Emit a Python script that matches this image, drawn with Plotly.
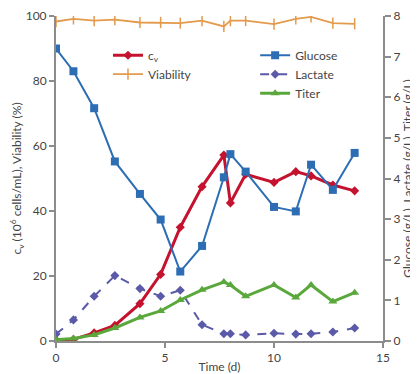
import plotly.graph_objects as go

time_d = [0, 0.8, 1.75, 2.7, 3.85, 4.8, 5.7, 6.7, 7.7, 8.0, 8.7, 10.0, 11.0, 11.7, 12.7, 13.7]
cv = [0.3, 0.5, 2.5, 4.8, 11.5, 20.5, 35.0, 47.5, 57.2, 42.5, 51.3, 48.8, 52.1, 50.8, 48.0, 46.2]
viability = [98.3, 99.1, 98.6, 98.9, 98.0, 98.0, 97.8, 98.6, 96.8, 98.6, 98.6, 97.5, 99.1, 99.7, 97.8, 97.6]
glucose = [7.20, 6.64, 5.73, 4.42, 3.62, 2.99, 1.71, 2.34, 4.03, 4.60, 4.17, 3.30, 3.19, 4.34, 3.72, 4.63]
lactate = [0.17, 0.52, 1.10, 1.61, 1.29, 1.10, 1.25, 0.40, 0.18, 0.18, 0.15, 0.19, 0.17, 0.18, 0.22, 0.32]
titer = [0.03, 0.06, 0.15, 0.32, 0.58, 0.74, 1.01, 1.26, 1.45, 1.38, 1.10, 1.38, 1.07, 1.38, 0.97, 1.19]

RED = "#c4122f"
ORANGE = "#e39a4c"
BLUE = "#2d6db4"
PURPLE = "#5a5aa8"
GREEN = "#5aa83c"
AXIS = "#8c8c8c"
TXT = "#444444"
FONT = "Lato, Noto Sans, sans-serif"

fig = go.Figure()
fig.add_trace(go.Scatter(x=time_d, y=viability, name="Viability", mode="lines+markers",
                         line=dict(color=ORANGE, width=1.8),
                         marker=dict(symbol="line-ns", size=8, line=dict(color=ORANGE, width=1.5)),
                         legend="legend"))
fig.add_trace(go.Scatter(x=time_d, y=cv, name="c<sub>v</sub>", mode="lines+markers",
                         line=dict(color=RED, width=3),
                         marker=dict(symbol="diamond", size=7, color=RED),
                         legend="legend"))
fig.add_trace(go.Scatter(x=time_d, y=glucose, name="Glucose", mode="lines+markers", yaxis="y2",
                         line=dict(color=BLUE, width=2),
                         marker=dict(symbol="square", size=8, color=BLUE),
                         legend="legend2"))
fig.add_trace(go.Scatter(x=time_d, y=lactate, name="Lactate", mode="lines+markers", yaxis="y2",
                         line=dict(color=PURPLE, width=2, dash="dash"),
                         marker=dict(symbol="diamond", size=7, color=PURPLE),
                         legend="legend2"))
fig.add_trace(go.Scatter(x=time_d, y=titer, name="Titer", mode="lines+markers", yaxis="y2",
                         line=dict(color=GREEN, width=3),
                         marker=dict(symbol="triangle-up", size=8, color=GREEN),
                         legend="legend2"))

fig.update_layout(
    width=410, height=366,
    margin=dict(l=48, r=35, t=8, b=33),
    paper_bgcolor="white", plot_bgcolor="white",
    font=dict(family=FONT, size=12, color=TXT),
    showlegend=True,
    xaxis=dict(range=[0, 15], tickvals=[0, 5, 10, 15], showgrid=False, zeroline=False,
               showline=True, linecolor=AXIS, linewidth=2, ticks="outside", ticklen=5,
               tickcolor=AXIS, tickwidth=1.5, automargin=False,
               title=dict(text="Time (d)", standoff=2, font=dict(size=12))),
    yaxis=dict(range=[0, 100], dtick=20, showgrid=False, zeroline=False,
               showline=True, linecolor=AXIS, linewidth=2, ticks="outside", ticklen=5,
               tickcolor=AXIS, tickwidth=1.5, automargin=False,
               title=dict(text="c<sub>v</sub> (10<sup>6</sup> cells/mL), Viability (%)",
                          standoff=4, font=dict(size=12))),
    yaxis2=dict(range=[0, 8], dtick=1, overlaying="y", side="right", showgrid=False, zeroline=False,
                showline=True, linecolor=AXIS, linewidth=2, ticks="outside", ticklen=6,
                tickcolor=AXIS, tickwidth=1.5, automargin=False,
                title=dict(text="Glucose (g/L), Lactate (g/L), Titer (g/L)", standoff=4,
                           font=dict(size=12))),
    legend=dict(x=0.159, y=0.924, xanchor="left", yanchor="top", bgcolor="rgba(0,0,0,0)",
                font=dict(size=12), tracegroupgap=0, itemwidth=30,
                traceorder="reversed"),
    legend2=dict(x=0.609, y=0.924, xanchor="left", yanchor="top", bgcolor="rgba(0,0,0,0)",
                 font=dict(size=12), tracegroupgap=0, itemwidth=30),
)

fig.write_html("out.html")
